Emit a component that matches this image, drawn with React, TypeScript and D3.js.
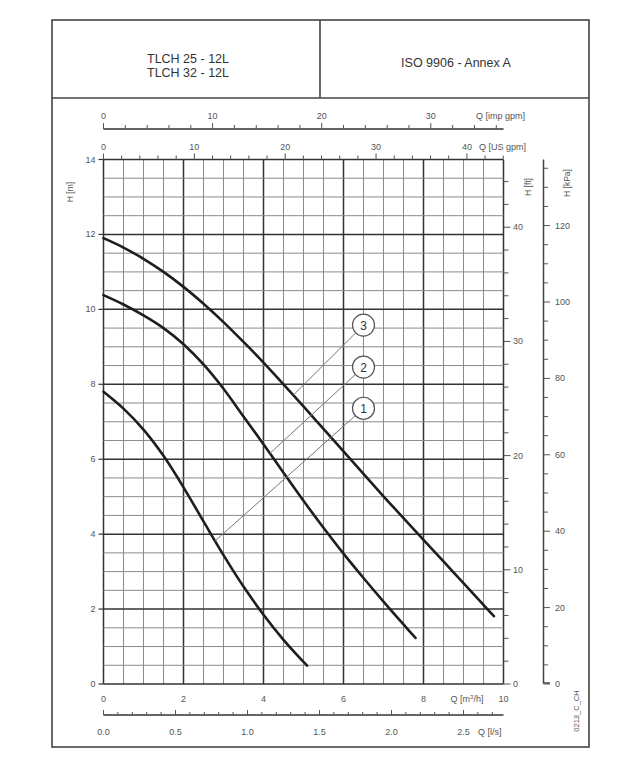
import React from "react";
import * as d3 from "d3";

// ---- data ----
const curve1Q = [0, 0.5, 1, 1.5, 2, 2.5, 3, 3.5, 4, 4.5, 5, 5.09];
const curve1H = [7.8, 7.35, 6.79, 6.09, 5.25, 4.34, 3.44, 2.6, 1.85, 1.18, 0.59, 0.49];
const curve2Q = [0, 0.5, 1, 1.5, 2, 2.5, 3, 3.5, 4, 4.5, 5, 5.5, 6, 6.5, 7, 7.5, 7.8];
const curve2H = [10.38, 10.13, 9.84, 9.5, 9.07, 8.53, 7.88, 7.14, 6.4, 5.64, 4.89, 4.17, 3.48, 2.83, 2.2, 1.59, 1.23];
const curve3Q = [0, 0.5, 1, 1.5, 2, 2.5, 3, 3.5, 4, 4.5, 5, 5.5, 6, 6.5, 7, 7.5, 8, 8.5, 9, 9.5, 9.76];
const curve3H = [11.9, 11.65, 11.35, 11.0, 10.6, 10.15, 9.66, 9.13, 8.58, 8.0, 7.41, 6.81, 6.21, 5.61, 5.01, 4.43, 3.85, 3.27, 2.69, 2.11, 1.81];

const labelNames = ["1", "2", "3"];
const labelAnchorQ = [2.79, 4.16, 4.745];
const labelCircleQ = [6.5, 6.5, 6.5];
const labelCircleH = [7.36, 8.46, 9.58];

const hTicksM = [0, 2, 4, 6, 8, 10, 12, 14];
const qTicksM3h = [0, 2, 4, 6, 8];
const impTicks = [0, 10, 20, 30];
const usTicks = [0, 10, 20, 30, 40];
const lsTicks = [0, 0.5, 1.0, 1.5, 2.0, 2.5];
const ftTicks = [0, 10, 20, 30, 40];
const kpaTicks = [0, 20, 40, 60, 80, 100, 120];

const headerLeft = ["TLCH 25 - 12L", "TLCH 32 - 12L"];
const headerRight = "ISO 9906 - Annex A";
const docCode = "0213_C_CH";

// ---- conversions ----
const IMP_PER_M3H = 3.6662;
const US_PER_M3H = 4.4029;
const M3H_PER_LS = 3.6;
const FT_PER_M = 3.28084;
const KPA_PER_M = 9.80665;

export default function App() {
  const W = 643, H = 768;
  const x0 = 103.5, x1 = 503.5, yBot = 684, yTop = 159.5;
  const x = d3.scaleLinear().domain([0, 10]).range([x0, x1]);
  const y = d3.scaleLinear().domain([0, 14]).range([yBot, yTop]);
  const xImp = d3.scaleLinear().domain([0, 10 * IMP_PER_M3H]).range([x0, x1]);
  const xUs = d3.scaleLinear().domain([0, 10 * US_PER_M3H]).range([x0, x1]);
  const xLs = d3.scaleLinear().domain([0, 10 / M3H_PER_LS]).range([x0, x1]);
  const yFt = d3.scaleLinear().domain([0, 14 * FT_PER_M]).range([yBot, yTop]);
  const yKpa = d3.scaleLinear().domain([0, 14 * KPA_PER_M]).range([yBot, yTop]);

  const line = d3
    .line<[number, number]>()
    .x((d) => x(d[0]))
    .y((d) => y(d[1]))
    .curve(d3.curveCatmullRom.alpha(0.5));
  const curveQ = [curve1Q, curve2Q, curve3Q];
  const curveH = [curve1H, curve2H, curve3H];
  const curves = curveQ.map((qs, k) => qs.map((q, i) => [q, curveH[k][i]] as [number, number]));
  const interp = curveQ.map((qs, k) => d3.scaleLinear().domain(qs).range(curveH[k]));

  const font = "'Liberation Sans', Arial, sans-serif";
  const tickCol = "#555";
  const fs = 9;

  const minorV = d3.range(0, 10.001, 0.5);
  const minorH = d3.range(0, 14.001, 0.5);

  const r = 11;

  return (
    <svg width={W} height={H} style={{ display: "block", position: "absolute", left: 0, top: 0 }} fontFamily={font}>
      <rect x={0} y={0} width={W} height={H} fill="#fff" />
      {/* frame */}
      <rect x={52} y={20} width={537} height={727} fill="none" stroke="#444" strokeWidth={1.6} />
      <line x1={52} x2={589} y1={98} y2={98} stroke="#444" strokeWidth={1.6} />
      <line x1={320} x2={320} y1={20} y2={98} stroke="#444" strokeWidth={1.6} />
      {headerLeft.map((t, i) => (
        <text key={t} x={188} y={63 + i * 14} textAnchor="middle" fontSize={12.5} fill="#333">
          {t}
        </text>
      ))}
      <text x={456} y={67} textAnchor="middle" fontSize={12.5} fill="#333">
        {headerRight}
      </text>

      {/* grid */}
      {minorV.map((q) => {
        const major = Math.abs(q % 2) < 1e-6;
        return (
          <line key={"v" + q} x1={x(q)} x2={x(q)} y1={yTop} y2={yBot}
            stroke={major ? "#333" : "#8a8a8a"} strokeWidth={major ? 1.5 : 1} />
        );
      })}
      {minorH.map((h) => {
        const major = Math.abs(h % 2) < 1e-6;
        return (
          <line key={"h" + h} x1={x0} x2={x1} y1={y(h)} y2={y(h)}
            stroke={major ? "#333" : "#8a8a8a"} strokeWidth={major ? 1.5 : 1} />
        );
      })}

      {/* left H axis */}
      {hTicksM.map((h) => (
        <g key={"hl" + h}>
          <line x1={x0 - 5} x2={x0} y1={y(h)} y2={y(h)} stroke="#333" strokeWidth={1.2} />
          <text x={x0 - 8} y={y(h) + 3} textAnchor="end" fontSize={fs} fill={tickCol}>{h}</text>
        </g>
      ))}
      <text transform="translate(73,192) rotate(-90)" textAnchor="middle" fontSize={8.5} fill={tickCol}>H [m]</text>

      {/* bottom m3/h labels */}
      {qTicksM3h.map((q) => (
        <text key={"qb" + q} x={x(q)} y={702} textAnchor="middle" fontSize={fs} fill={tickCol}>{q}</text>
      ))}
      <text x={467} y={702} textAnchor="middle" fontSize={fs} fill={tickCol}>
        Q [m<tspan dy={-3} fontSize={6}>3</tspan><tspan dy={3}>/h]</tspan>
      </text>
      <text x={x(10)} y={702} textAnchor="middle" fontSize={fs} fill={tickCol}>10</text>

      {/* bottom l/s axis */}
      <line x1={x0} x2={x1} y1={715} y2={715} stroke="#333" strokeWidth={1.3} />
      {d3.range(0, 2.7801, 0.1).map((v) => {
        const major = Math.abs((Math.round(v * 10)) % 5) === 0;
        return <line key={"ls" + v} x1={xLs(v)} x2={xLs(v)} y1={715} y2={major ? 710 : 712} stroke="#555" strokeWidth={1} />;
      })}
      {lsTicks.map((v) => (
        <text key={"lsl" + v} x={xLs(v)} y={735} textAnchor="middle" fontSize={fs} fill={tickCol}>{v.toFixed(1)}</text>
      ))}
      <text x={478} y={735} textAnchor="start" fontSize={fs} fill={tickCol}>Q [l/s]</text>

      {/* top imp gpm axis */}
      <line x1={x0} x2={x1} y1={129} y2={129} stroke="#333" strokeWidth={1.3} />
      {d3.range(0, 36.01, 2).map((v) => (
        <line key={"imp" + v} x1={xImp(v)} x2={xImp(v)} y1={129} y2={v % 10 === 0 ? 123 : 125} stroke="#555" strokeWidth={1} />
      ))}
      {impTicks.map((v) => (
        <text key={"impl" + v} x={xImp(v)} y={119} textAnchor="middle" fontSize={fs} fill={tickCol}>{v}</text>
      ))}
      <text x={476} y={119} fontSize={fs} fill={tickCol}>Q [imp gpm]</text>

      {/* top US gpm axis */}
      {d3.range(0, 44.01, 2).map((v) => (
        <line key={"us" + v} x1={xUs(v)} x2={xUs(v)} y1={yTop} y2={v % 10 === 0 ? yTop - 6 : yTop - 4} stroke="#555" strokeWidth={1} />
      ))}
      {usTicks.map((v) => (
        <text key={"usl" + v} x={xUs(v)} y={150} textAnchor="middle" fontSize={fs} fill={tickCol}>{v}</text>
      ))}
      <text x={479} y={150} fontSize={fs} fill={tickCol}>Q [US gpm]</text>

      {/* right ft axis */}
      {d3.range(0, 45.01, 2).map((v) => (
        <line key={"ft" + v} x1={x1} x2={v % 10 === 0 ? x1 + 7 : x1 + 5} y1={yFt(v)} y2={yFt(v)} stroke="#555" strokeWidth={1} />
      ))}
      {ftTicks.map((v) => (
        <text key={"ftl" + v} x={513} y={yFt(v) + 3} fontSize={fs} fill={tickCol}>{v}</text>
      ))}
      <text transform="translate(531,187) rotate(-90)" textAnchor="middle" fontSize={8.5} fill={tickCol}>H [ft]</text>

      {/* right kPa axis */}
      <path d={`M543.5,${yTop} V${yBot - 1} H550`} fill="none" stroke="#444" strokeWidth={1.5} />
      {d3.range(0, 135.01, 5).map((v) => (
        <line key={"kpa" + v} x1={543.5} x2={v % 20 === 0 ? 550 : 548} y1={yKpa(v)} y2={yKpa(v)} stroke="#555" strokeWidth={1} />
      ))}
      {kpaTicks.map((v) => (
        <text key={"kpal" + v} x={555} y={yKpa(v) + 3} fontSize={fs} fill={tickCol}>{v}</text>
      ))}
      <text transform="translate(570,183) rotate(-90)" textAnchor="middle" fontSize={8.5} fill={tickCol}>H [kPa]</text>

      <text transform="translate(579,711) rotate(-90)" textAnchor="middle" fontSize={7.5} fill={tickCol}>{docCode}</text>

      {/* curves */}
      {curves.map((c, i) => (
        <path key={"c" + i} d={line(c) || ""} fill="none" stroke="#1e1e1e" strokeWidth={2.6} strokeLinecap="round" />
      ))}

      {/* labels */}
      {labelNames.map((n, i) => {
        const ax = x(labelAnchorQ[i]), ay = y(interp[i](labelAnchorQ[i]));
        const cx = x(labelCircleQ[i]), cy = y(labelCircleH[i]);
        const dx = cx - ax, dy = cy - ay;
        const len = Math.hypot(dx, dy);
        const ex = cx - (dx / len) * r, ey = cy - (dy / len) * r;
        return (
          <g key={"lab" + n}>
            <line x1={ax} y1={ay} x2={ex} y2={ey} stroke="#777" strokeWidth={1} />
            <circle cx={cx} cy={cy} r={r} fill="#fff" stroke="#555" strokeWidth={1.2} />
            <text x={cx} y={cy + 4.5} textAnchor="middle" fontSize={12} fill="#333">{n}</text>
          </g>
        );
      })}
    </svg>
  );
}
